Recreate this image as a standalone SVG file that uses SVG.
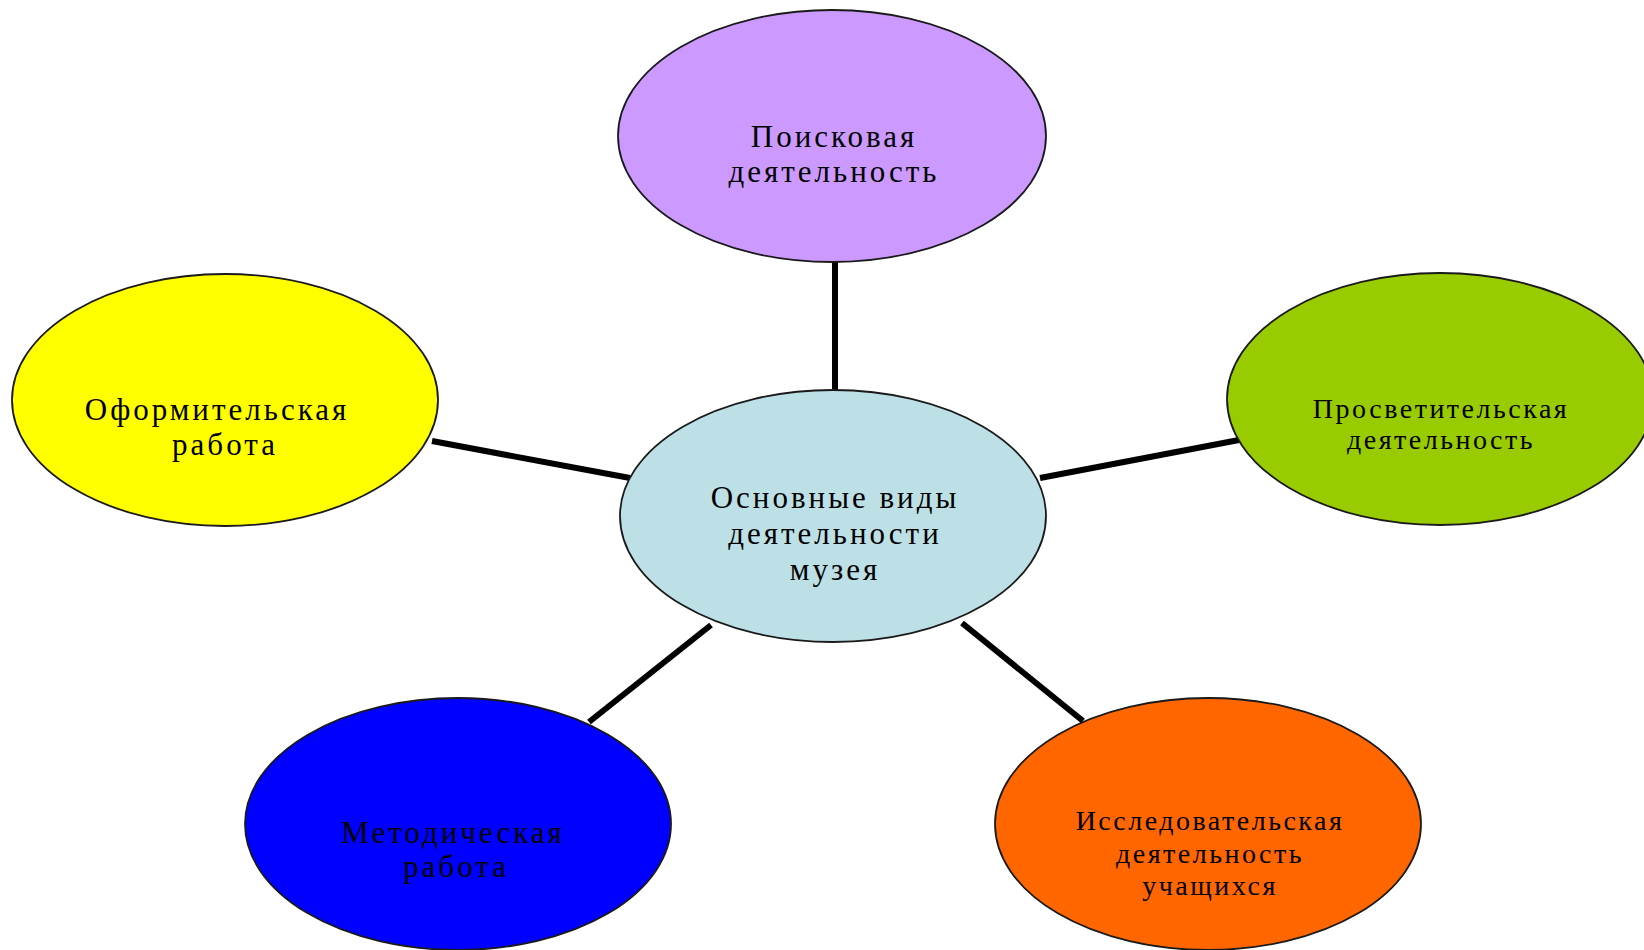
<svg xmlns="http://www.w3.org/2000/svg" width="1644" height="950" viewBox="0 0 1644 950">
<style>
.node ellipse{stroke:#1a1a1a;stroke-width:1.8}
.lbl{font-family:"Liberation Serif","DejaVu Serif",serif;font-size:31px;fill:#000;text-anchor:middle;letter-spacing:3px}
.sm{font-size:28px;letter-spacing:2.5px}
#connectors line{stroke:#000;stroke-width:6;stroke-linecap:butt}
</style>
<rect width="1644" height="950" fill="#fff"/>
<g id="connectors">
<line x1="835" y1="262" x2="835" y2="391"/>
<line x1="432" y1="441" x2="630" y2="478"/>
<line x1="1040" y1="478" x2="1239" y2="440"/>
<line x1="711" y1="625" x2="589" y2="722"/>
<line x1="962" y1="623" x2="1083" y2="721"/>
</g>
<g id="node-top" class="node">
<ellipse cx="832" cy="136" rx="214" ry="126" fill="#CC99FF"/>
<text class="lbl" x="834" y="147">Поисковая</text>
<text class="lbl" x="834" y="182">деятельность</text>
</g>
<g id="node-center" class="node">
<ellipse cx="833" cy="516" rx="213" ry="126" fill="#BDE0E6"/>
<text class="lbl" x="835" y="508">Основные виды</text>
<text class="lbl" x="835" y="544">деятельности</text>
<text class="lbl" x="835" y="580">музея</text>
</g>
<g id="node-left" class="node">
<ellipse cx="225" cy="400" rx="213" ry="126" fill="#FFFF00"/>
<text class="lbl" x="217" y="420">Оформительская</text>
<text class="lbl" x="225" y="455">работа</text>
</g>
<g id="node-right" class="node">
<ellipse cx="1440" cy="399" rx="213" ry="126" fill="#99CC00"/>
<text class="lbl sm" x="1441" y="418">Просветительская</text>
<text class="lbl sm" x="1441" y="449">деятельность</text>
</g>
<g id="node-bottom-left" class="node">
<ellipse cx="458" cy="824" rx="213" ry="126" fill="#0000FF"/>
<text class="lbl" x="453" y="843">Методическая</text>
<text class="lbl" x="456" y="877">работа</text>
</g>
<g id="node-bottom-right" class="node">
<ellipse cx="1208" cy="824" rx="213" ry="126" fill="#FF6600"/>
<text class="lbl sm" x="1210" y="830">Исследовательская</text>
<text class="lbl sm" x="1210" y="863">деятельность</text>
<text class="lbl sm" x="1210" y="895">учащихся</text>
</g>
</svg>
